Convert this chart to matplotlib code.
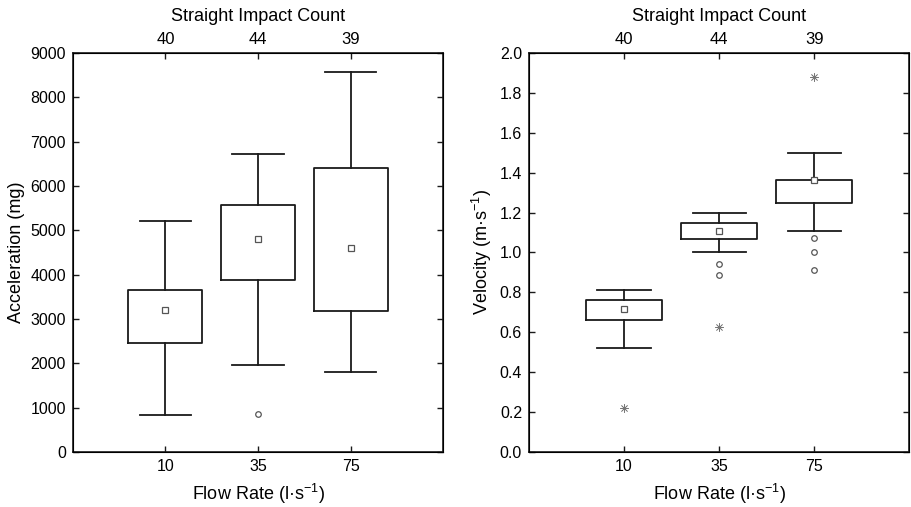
import matplotlib
matplotlib.use("Agg")
import matplotlib.pyplot as plt

plt.rcParams['font.family'] = ['Liberation Sans', 'DejaVu Sans']
plt.rcParams['mathtext.fontset'] = 'custom'
plt.rcParams['mathtext.rm'] = 'Liberation Sans'
plt.rcParams['mathtext.it'] = 'Liberation Sans'

# data
flow_rates = ['10', '35', '75']
impact_counts = ['40', '44', '39']

acc_whislo = [830, 1970, 1800]
acc_q1 = [2450, 3870, 3170]
acc_q3 = [3650, 5570, 6410]
acc_whishi = [5200, 6730, 8560]
acc_mean = [3200, 4800, 4600]
acc_outliers = [[], [850], []]
acc_extremes = [[], [], []]

vel_whislo = [0.52, 1.00, 1.11]
vel_q1 = [0.66, 1.07, 1.25]
vel_q3 = [0.76, 1.15, 1.365]
vel_whishi = [0.81, 1.20, 1.50]
vel_mean = [0.715, 1.11, 1.365]
vel_outliers = [[], [0.94, 0.885], [1.075, 1.0, 0.91]]
vel_extremes = [[0.22], [0.625], [1.88]]

line_col = '#1a1a1a'
mark_col = '#555555'


def draw_panel(ax, whislo, q1, q3, whishi, mean, outliers, extremes, ylabel, ylim, yticks, fmt):
    stats = []
    for i in range(len(flow_rates)):
        stats.append({'whislo': whislo[i], 'q1': q1[i], 'med': (q1[i] + q3[i]) / 2,
                      'q3': q3[i], 'whishi': whishi[i], 'mean': mean[i],
                      'fliers': outliers[i]})
    pos = [1, 2, 3]
    ax.bxp(stats, positions=pos, widths=0.8, showmeans=True, showcaps=True,
           boxprops=dict(color=line_col, linewidth=1.3),
           whiskerprops=dict(color=line_col, linewidth=1.3),
           capprops=dict(color=line_col, linewidth=1.3),
           medianprops=dict(linewidth=0),
           meanprops=dict(marker='s', markersize=4, markerfacecolor='white',
                          markeredgecolor=mark_col, markeredgewidth=0.9),
           flierprops=dict(marker='o', markersize=4, markerfacecolor='white',
                           markeredgecolor=mark_col, markeredgewidth=0.9),
           capwidths=0.56, manage_ticks=False)
    for p, ext in zip(pos, extremes):
        if ext:
            ax.plot([p] * len(ext), ext, linestyle='none', marker=(8, 2, 0),
                    markersize=6, color='#777777', markeredgewidth=0.5)

    ax.set_xlim(0, 4)
    ax.set_ylim(*ylim)
    ax.set_xticks(pos)
    ax.set_xticklabels(flow_rates)
    ax.set_yticks(yticks)
    ax.set_yticklabels([fmt.format(v) for v in yticks])
    ax.tick_params(direction='in', length=4, width=1, labelsize=11.5, pad=5,
                   right=True, color=line_col)
    ax.set_xlabel('Flow Rate (l·s$^{-1}$)', fontsize=13, labelpad=6)
    ax.set_ylabel(ylabel, fontsize=13, labelpad=4)
    for s in ax.spines.values():
        s.set_linewidth(1.2)
        s.set_color(line_col)

    top = ax.twiny()
    top.set_xlim(0, 4)
    top.set_xticks(pos)
    top.set_xticklabels(impact_counts)
    top.tick_params(direction='in', length=4, width=1, labelsize=12, pad=4, color=line_col)
    top.set_xlabel('Straight Impact Count', fontsize=13, labelpad=8)


fig = plt.figure(figsize=(9.11, 5.07), dpi=100)
ax1 = fig.add_axes([0.0801, 0.1085, 0.4062, 0.787])
ax2 = fig.add_axes([0.5807, 0.1085, 0.4175, 0.787])

draw_panel(ax1, acc_whislo, acc_q1, acc_q3, acc_whishi, acc_mean, acc_outliers,
           acc_extremes, 'Acceleration (mg)', (0, 9000), list(range(0, 9001, 1000)), '{:d}')
draw_panel(ax2, vel_whislo, vel_q1, vel_q3, vel_whishi, vel_mean, vel_outliers,
           vel_extremes, 'Velocity (m·s$^{-1}$)', (0, 2.0),
           [round(0.2 * i, 1) for i in range(11)], '{:.1f}')

fig.savefig('out.png', dpi=100)
